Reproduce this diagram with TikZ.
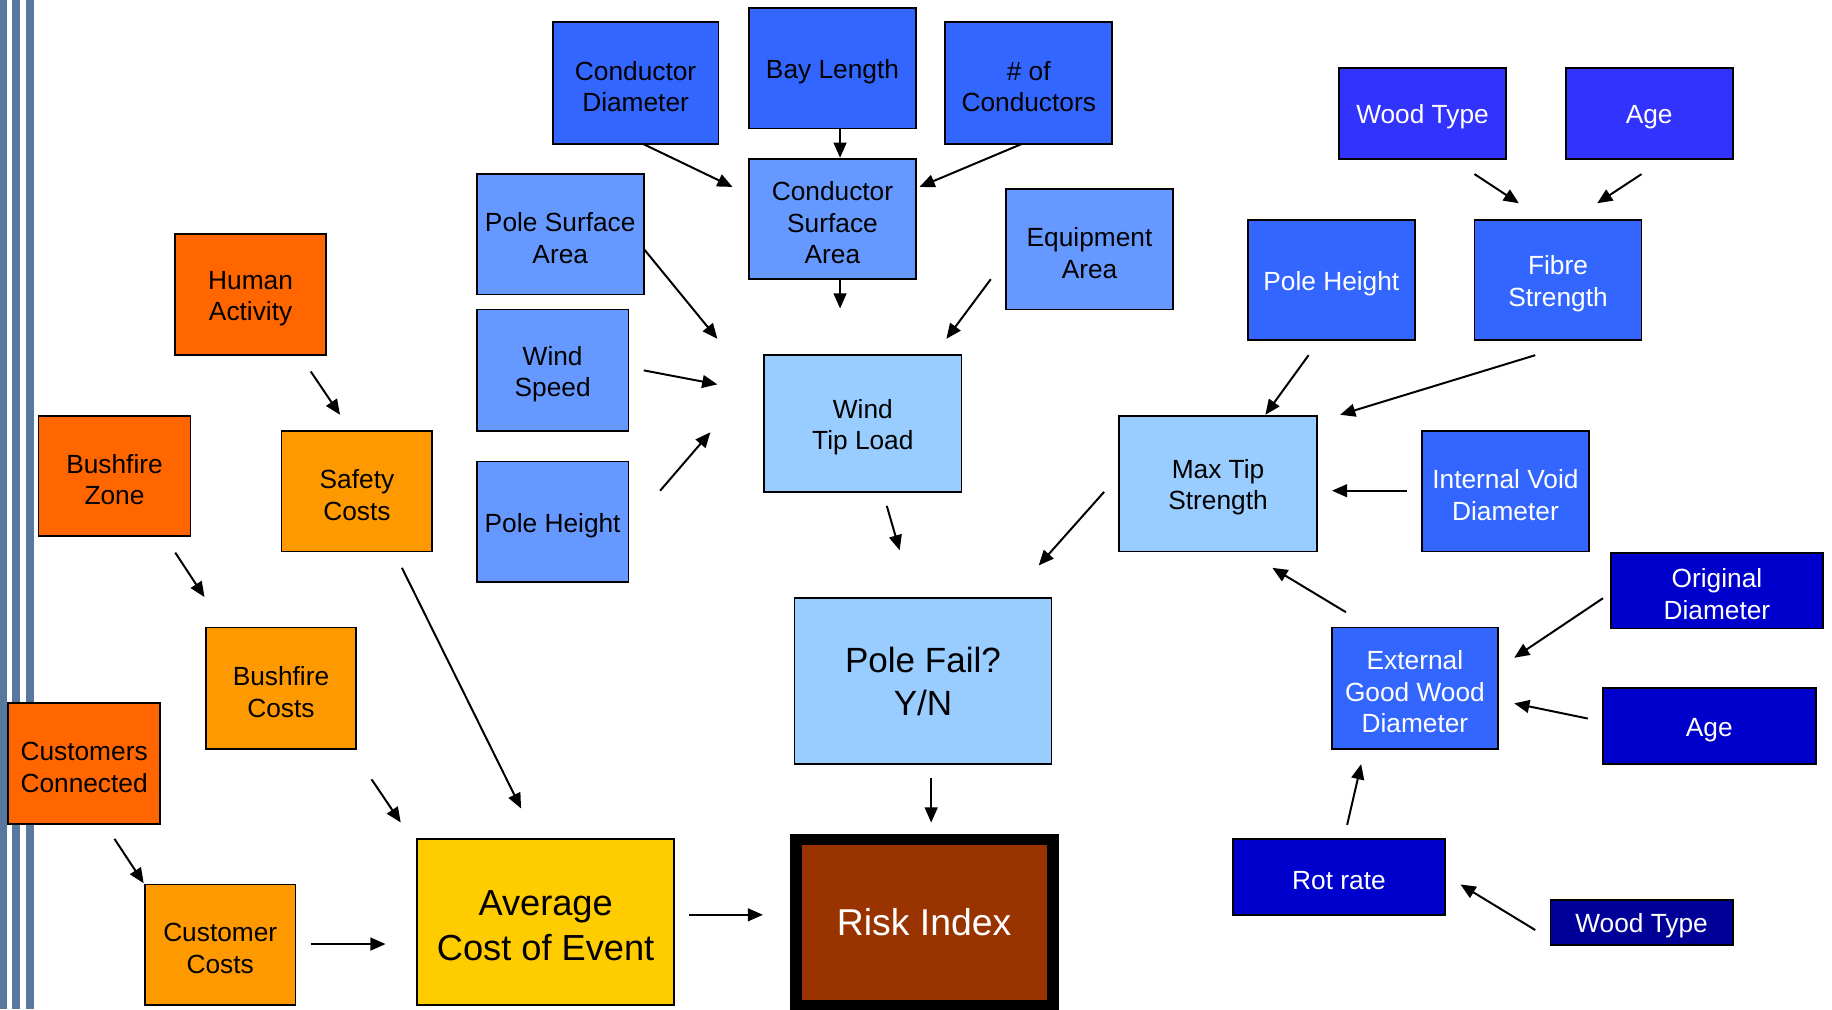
\documentclass[tikz,border=0pt]{standalone}
\usepackage{fontspec}
\setmainfont{Liberation Sans}
\usetikzlibrary{arrows.meta}

\definecolor{stripe}{HTML}{5878A0}
\definecolor{blueA}{HTML}{3366FF}
\definecolor{blueB}{HTML}{6699FF}
\definecolor{blueC}{HTML}{99CCFF}
\definecolor{blueD}{HTML}{3333FF}
\definecolor{navyA}{HTML}{0000CC}
\definecolor{navyB}{HTML}{000099}
\definecolor{orangeA}{HTML}{FF6600}
\definecolor{orangeB}{HTML}{FF9900}
\definecolor{goldA}{HTML}{FFCC00}
\definecolor{brownA}{HTML}{993300}

\tikzset{
  % number of text lines; sets the height of a strut that lowers the text a little
  nl/.code={\def\boxlines{#1}},
  box/.style={draw=black, line width=1.5pt, fill=#1, inner sep=0pt, outer sep=0pt,
    align=center, font=\fontsize{22.5}{27}\selectfont, nl=2,
    execute at begin node={\rule{0pt}{\dimexpr 27pt*\boxlines-4.4pt\relax}}},
  wbox/.style={box=#1, text=white},
  bigbox/.style={draw=black, line width=1.5pt, fill=#1, inner sep=0pt, outer sep=0pt,
    align=center, minimum width=220pt, minimum height=142pt,
    font=\fontsize{31}{38}\selectfont},
  sz/.style 2 args={minimum width=#1pt, minimum height=#2pt},
  arr/.style={line width=1.7pt, -{Triangle[length=13pt,width=11pt]}}
}

\begin{document}
\begin{tikzpicture}[x=1pt, y=-1pt]
\useasboundingbox (0,0) rectangle (1568,864);
\fill[white] (0,0) rectangle (1568,864);

% side stripes
\fill[stripe] (0,0) rectangle (6,864);
\fill[stripe] (10.3,0) rectangle (17.1,864);
\fill[stripe] (22.3,0) rectangle (29.1,864);

% wind loading branch
\node[box=blueA, sz={142}{104}] (CondDiam) at (544,71) {Conductor\\Diameter};
\node[box=blueA, sz={143}{103}, nl=1] (BayLen) at (712.5,58.5) {Bay Length};
\node[box=blueA, sz={143}{104}] (NumCond) at (880.5,71) {\# of\\Conductors};
\node[box=blueB, sz={143}{103}, nl=3] (CondSurf) at (712.5,187.5) {Conductor\\Surface\\Area};
\node[box=blueB, sz={143}{103}] (PoleSurf) at (479.5,200.5) {Pole Surface\\Area};
\node[box=blueB, sz={130}{104}] (WindSpeed) at (473,317) {Wind\\Speed};
\node[box=blueB, sz={130}{103}, nl=1] (PoleHtL) at (473,446.5) {Pole Height};
\node[box=blueB, sz={143}{103}] (Equip) at (932.5,213.5) {Equipment\\Area};
\node[box=blueC, sz={169}{117}] (WindTip) at (738.5,362.5) {Wind\\Tip Load};

% outcome
\node[bigbox=blueC, font=\fontsize{30}{37}\selectfont] (PoleFail) at (790,583) {Pole Fail?\\Y/N};
\node[bigbox=brownA, line width=10pt, text=white, font=\fontsize{32}{38}\selectfont] (Risk) at (791,789.5) {Risk Index};
\node[bigbox=goldA, execute at begin node={\rule{0pt}{66pt}}] (AvgCost) at (467,789) {Average\\Cost of Event};

% cost branch
\node[box=orangeA, sz={129}{104}] (Human) at (214.5,252) {Human\\Activity};
\node[box=orangeB, sz={129}{103}] (Safety) at (305.5,420.5) {Safety\\Costs};
\node[box=orangeA, sz={130}{103}] (BushZone) at (98,407.5) {Bushfire\\Zone};
\node[box=orangeB, sz={129}{104}] (BushCost) at (240.5,589) {Bushfire\\Costs};
\node[box=orangeA, sz={130}{103}] (CustConn) at (72,653.5) {Customers\\Connected};
\node[box=orangeB, sz={129}{103}] (CustCost) at (188.5,808.5) {Customer\\Costs};

% pole strength branch
\node[wbox=blueD, sz={143}{78}, nl=1] (WoodTop) at (1217.5,97) {Wood Type};
\node[wbox=blueD, sz={143}{78}, nl=1] (AgeTop) at (1411.5,97) {Age};
\node[wbox=blueA, sz={143}{103}, nl=1] (PoleHtR) at (1139.5,239.5) {Pole Height};
\node[wbox=blueA, sz={143}{103}] (Fibre) at (1333.5,239.5) {Fibre\\Strength};
\node[box=blueC, sz={169}{116}] (MaxTip) at (1042.5,414) {Max Tip\\Strength};
\node[wbox=blueA, sz={143}{103}] (IntVoid) at (1288.5,420.5) {Internal Void\\Diameter};
\node[wbox=navyA, sz={181}{65}] (OrigDiam) at (1469.5,505.5) {Original\\Diameter};
\node[wbox=blueA, sz={142}{104}, nl=3] (ExtGood) at (1211,589) {External\\Good Wood\\Diameter};
\node[wbox=navyA, sz={182}{65}, nl=1] (AgeBot) at (1463,621.5) {Age};
\node[wbox=navyA, sz={182}{65}, nl=1] (RotRate) at (1146,750.5) {Rot rate};
\node[wbox=navyB, sz={156}{39}, nl=1] (WoodBot) at (1405,789.5) {Wood Type};

% connectors
\draw[arr] ([shift={(6,52)}]CondDiam.center) -- ([shift={(-85.5,-27.5)}]CondSurf.center);
\draw[arr] ([shift={(6.5,51.5)}]BayLen.center) -- ([shift={(6.5,-52.5)}]CondSurf.center);
\draw[arr] ([shift={(-5.5,52)}]NumCond.center) -- ([shift={(74.5,-27.5)}]CondSurf.center);
\draw[arr] ([shift={(6.5,51.5)}]CondSurf.center) -- ([shift={(-19.5,-98.5)}]WindTip.center);
\draw[arr] ([shift={(71.5,12.5)}]PoleSurf.center) -- ([shift={(-124.5,-72.5)}]WindTip.center);
\draw[arr] ([shift={(78,0)}]WindSpeed.center) -- ([shift={(-124.5,-33.5)}]WindTip.center);
\draw[arr] ([shift={(92,-26.5)}]PoleHtL.center) -- ([shift={(-130.5,7.5)}]WindTip.center);
\draw[arr] ([shift={(-84.5,25.5)}]Equip.center) -- ([shift={(71.5,-72.5)}]WindTip.center);
\draw[arr] ([shift={(20.5,70.5)}]WindTip.center) -- ([shift={(-20,-112)}]PoleFail.center);
\draw[arr] ([shift={(-97.5,7)}]MaxTip.center) -- ([shift={(99,-99)}]PoleFail.center);
\draw[arr] ([shift={(7,83)}]PoleFail.center) -- ([shift={(6,-85.5)}]Risk.center);
\draw[arr] ([shift={(123,-6)}]AvgCost.center) -- ([shift={(-138,-6.5)}]Risk.center);

\draw[arr] ([shift={(51.5,66)}]Human.center) -- ([shift={(-14.5,-65.5)}]Safety.center);
\draw[arr] ([shift={(38.5,65.5)}]Safety.center) -- ([shift={(-21,-97)}]AvgCost.center);
\draw[arr] ([shift={(52,65.5)}]BushZone.center) -- ([shift={(-65.5,-78)}]BushCost.center);
\draw[arr] ([shift={(77.5,78)}]BushCost.center) -- ([shift={(-124,-85)}]AvgCost.center);
\draw[arr] ([shift={(26,64.5)}]CustConn.center) -- ([shift={(-65.5,-52.5)}]CustCost.center);
\draw[arr] ([shift={(77.5,-0.5)}]CustCost.center) -- ([shift={(-137,19)}]AvgCost.center);

\draw[arr] ([shift={(44.5,52)}]WoodTop.center) -- ([shift={(-33.5,-65.5)}]Fibre.center);
\draw[arr] ([shift={(-6.5,52)}]AgeTop.center) -- ([shift={(33.5,-65.5)}]Fibre.center);
\draw[arr] ([shift={(-19.5,64.5)}]PoleHtR.center) -- ([shift={(40.5,-59)}]MaxTip.center);
\draw[arr] ([shift={(-19.5,64.5)}]Fibre.center) -- ([shift={(104.5,-59)}]MaxTip.center);
\draw[arr] ([shift={(-84.5,-0.5)}]IntVoid.center) -- ([shift={(97.5,6)}]MaxTip.center);
\draw[arr] ([shift={(-59,-65)}]ExtGood.center) -- ([shift={(46.5,72)}]MaxTip.center);
\draw[arr] ([shift={(-97.5,6.5)}]OrigDiam.center) -- ([shift={(85,-26)}]ExtGood.center);
\draw[arr] ([shift={(-104,-6.5)}]AgeBot.center) -- ([shift={(85,13)}]ExtGood.center);
\draw[arr] ([shift={(7,-44.5)}]RotRate.center) -- ([shift={(-46,65)}]ExtGood.center);
\draw[arr] ([shift={(-91,6.5)}]WoodBot.center) -- ([shift={(104,6.5)}]RotRate.center);
\end{tikzpicture}
\end{document}
